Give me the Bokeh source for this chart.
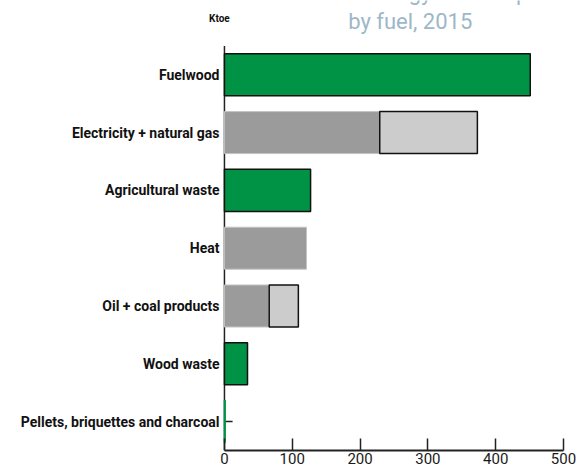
from bokeh.plotting import figure
from bokeh.models import Range1d, ColumnDataSource, FixedTicker
from bokeh.core.properties import value
from bokeh.embed import file_html
from bokeh.resources import INLINE

categories = ["Fuelwood", "Electricity + natural gas", "Agricultural waste", "Heat",
              "Oil + coal products", "Wood waste", "Pellets, briquettes and charcoal"]
green_vals = [451, 0, 127, 0, 0, 34, 1]
dark_vals = [0, 229, 0, 121, 66, 0, 0]
light_vals = [0, 144, 0, 0, 43, 0, 0]
x_ticks = [0, 100, 200, 300, 400, 500]
title_lines = ["Household energy consumption", "by fuel, 2015"]
unit_label = "Ktoe"

FONT = "Roboto"
GREEN = "#009245"
DARK = "#9b9b9b"
LIGHT = "#cccccc"
AXIS = "#222222"
BAR_H = 0.727

n = len(categories)
ypos = [n - 1 - i for i in range(n)]  # first category on top

p = figure(width=577, height=470, output_backend="svg", toolbar_location=None,
           x_range=Range1d(-25, 500), y_range=Range1d(-0.5, 7.285),
           min_border_left=207, min_border_right=14, min_border_top=0, min_border_bottom=20,
           outline_line_color=None)
p.grid.visible = False

# category axis line at x = 0 and its tick marks, drawn beneath the bars
p.segment(x0=[0], x1=[0], y0=[-0.5], y1=[n - 0.5], line_color=AXIS, line_width=1.5,
          level="underlay")
p.segment(x0=0, x1=12, y0=ypos, y1=ypos, line_color=AXIS, line_width=1.5,
          level="underlay")

g = [(y, v) for y, v in zip(ypos, green_vals) if v > 0]
src_g = ColumnDataSource(dict(y=[a for a, _ in g], right=[v for _, v in g],
                              lc=["#111111" if v > 5 else GREEN for _, v in g]))
p.hbar(y="y", left=0, right="right", height=BAR_H, source=src_g,
       fill_color=GREEN, line_color="lc", line_width=1.5)

d = [(y, v) for y, v in zip(ypos, dark_vals) if v > 0]
src_d = ColumnDataSource(dict(y=[a for a, _ in d], right=[v for _, v in d]))
p.hbar(y="y", left=0, right="right", height=BAR_H, source=src_d,
       fill_color=DARK, line_color="#c4c4c4", line_width=1)

l = [(y, dv, lv) for y, dv, lv in zip(ypos, dark_vals, light_vals) if lv > 0]
src_l = ColumnDataSource(dict(y=[a for a, _, _ in l], left=[dv for _, dv, _ in l],
                              right=[dv + lv for _, dv, lv in l]))
p.hbar(y="y", left="left", right="right", height=BAR_H, source=src_l,
       fill_color=LIGHT, line_color="#111111", line_width=1.5)

xa = p.xaxis[0]
xa.ticker = FixedTicker(ticks=x_ticks)
xa.bounds = (0, 500)
xa.major_tick_in = 12
xa.major_tick_out = 0
xa.minor_tick_line_color = None
xa.axis_line_width = 2
xa.axis_line_color = AXIS
xa.major_tick_line_width = 1.5
xa.major_tick_line_color = AXIS
xa.major_label_text_font = FONT
xa.major_label_text_font_size = "15px"
xa.major_label_text_color = "#1a1a1a"
xa.major_label_standoff = 2

ya = p.yaxis[0]
ya.ticker = FixedTicker(ticks=ypos)
ya.major_label_overrides = {y: c for y, c in zip(ypos, categories)}
ya.axis_line_color = None
ya.major_tick_in = 0
ya.major_tick_out = 0
ya.minor_tick_line_color = None
ya.major_label_text_font = FONT
ya.major_label_text_font_style = "bold"
ya.major_label_text_font_size = "14px"
ya.major_label_text_color = "#111111"
ya.major_label_standoff = -12

p.text(x=[274, 274], y=[7.415, 6.922], text=title_lines, text_align="center",
       text_baseline="alphabetic", text_font=value(FONT), text_font_size="22px",
       text_color="#9db7c7")
p.text(x=[-7.4], y=[6.965], text=[unit_label], text_align="center",
       text_baseline="middle", text_font=value(FONT), text_font_size="10px",
       text_font_style="bold", text_color="#111111")

open("out.html", "w").write(file_html(p, INLINE))
